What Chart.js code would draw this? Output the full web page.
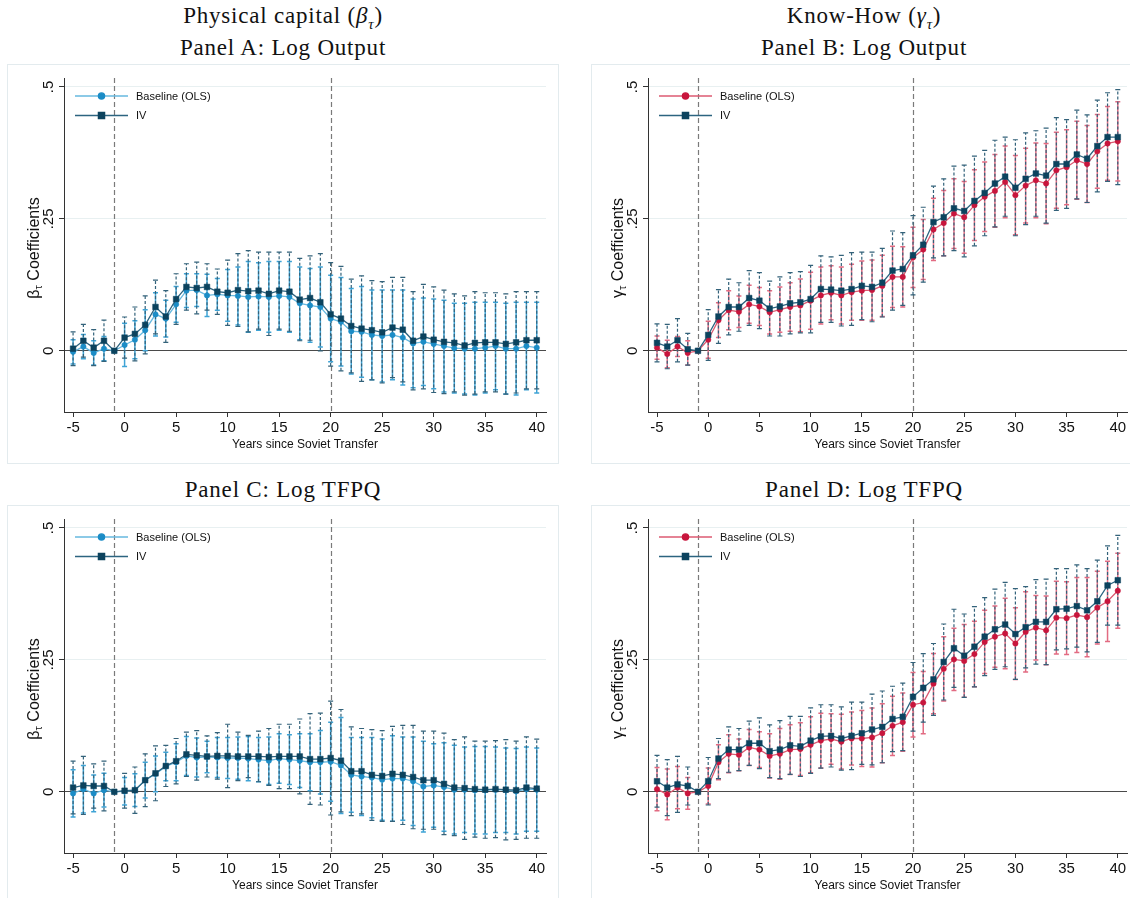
<!DOCTYPE html>
<html>
<head>
<meta charset="utf-8">
<script src="https://cdn.jsdelivr.net/npm/chart.js@4.4.1/dist/chart.umd.min.js"></script>
<style>
  html, body { margin: 0; padding: 0; background: #fff; }
  body { width: 1130px; height: 898px; overflow: hidden; position: relative; }
  .head { position: absolute; font-family: "Liberation Serif", "Times New Roman", serif; font-size: 23px;
          letter-spacing: 0.8px; line-height: 28px; color: #111; white-space: nowrap; transform: translateX(-50%); }
  .head sub { font-size: 15px; line-height: 0; }
  .frame { position: absolute; border: 1px solid #e3ebee; box-sizing: border-box; }
  canvas { position: absolute; }
</style>
</head>
<body>
<div class="head" style="left:283px; top:2px">Physical capital (<i>β</i><sub><i>τ</i></sub>)</div>
<div class="head" style="left:283px; top:34px">Panel A: Log Output</div>
<div class="head" style="left:864px; top:2px">Know-How (<i>γ</i><sub><i>τ</i></sub>)</div>
<div class="head" style="left:864px; top:34px">Panel B: Log Output</div>
<div class="head" style="left:283px; top:476px">Panel C: Log TFPQ</div>
<div class="head" style="left:864px; top:476px">Panel D: Log TFPQ</div>

<div class="frame" style="left:7px; top:64px; width:552px; height:400px"></div>
<div class="frame" style="left:591px; top:64px; width:545px; height:400px"></div>
<div class="frame" style="left:7px; top:505px; width:552px; height:400px"></div>
<div class="frame" style="left:591px; top:505px; width:545px; height:400px"></div>

<canvas id="panelA" width="552" height="400" style="left:7px; top:64px"></canvas>
<canvas id="panelB" width="545" height="400" style="left:591px; top:64px"></canvas>
<canvas id="panelC" width="552" height="400" style="left:7px; top:505px"></canvas>
<canvas id="panelD" width="545" height="400" style="left:591px; top:505px"></canvas>

<script>
// Event time: years relative to the Soviet transfer
const years = [-5, -4, -3, -2, -1, 0, 1, 2, 3, 4, 5, 6, 7, 8, 9, 10, 11, 12, 13, 14, 15, 16, 17, 18, 19,
               20, 21, 22, 23, 24, 25, 26, 27, 28, 29, 30, 31, 32, 33, 34, 35, 36, 37, 38, 39, 40];
const xTickValues = [-5, 0, 5, 10, 15, 20, 25, 30, 35, 40];
const xTickLabels = ['-5', '0', '5', '10', '15', '20', '25', '30', '35', '40'];
const yTickValues = [0, 0.25, 0.5];
const yTickLabels = ['0', '.25', '.5'];
const refYears = [-1, 20];
const seriesNames = ['Baseline (OLS)', 'IV'];

// Panel A: physical capital, log output (coefficient and 95% CI half-width)
const capOutputOls   = [-0.002, 0.008, -0.004, 0.004, 0, 0.011, 0.021, 0.039, 0.069, 0.061, 0.088, 0.114, 0.115, 0.105, 0.107,
                        0.105, 0.104, 0.102, 0.103, 0.102, 0.104, 0.102, 0.090, 0.086, 0.083, 0.061, 0.055, 0.037, 0.036, 0.030,
                        0.028, 0.030, 0.025, 0.014, 0.017, 0.013, 0.009, 0.005, 0.004, 0.004, 0.006, 0.009, 0.004, 0.004, 0.009, 0.006];
const capOutputOlsCi = [0.023, 0.023, 0.023, 0.023, 0, 0.041, 0.036, 0.039, 0.041, 0.035, 0.034, 0.032, 0.031, 0.040, 0.030,
                        0.049, 0.055, 0.067, 0.064, 0.067, 0.065, 0.067, 0.069, 0.070, 0.076, 0.082, 0.084, 0.081, 0.086, 0.085,
                        0.087, 0.085, 0.090, 0.084, 0.083, 0.085, 0.087, 0.085, 0.086, 0.088, 0.086, 0.083, 0.086, 0.088, 0.083, 0.086];
const capOutputIv    = [0.004, 0.019, 0.006, 0.019, 0, 0.025, 0.032, 0.049, 0.083, 0.065, 0.098, 0.121, 0.119, 0.121, 0.112,
                        0.110, 0.115, 0.113, 0.114, 0.108, 0.114, 0.112, 0.097, 0.100, 0.092, 0.069, 0.061, 0.047, 0.042, 0.039,
                        0.035, 0.044, 0.040, 0.019, 0.027, 0.021, 0.017, 0.015, 0.010, 0.015, 0.016, 0.016, 0.013, 0.016, 0.020, 0.020];
const capOutputIvCi  = [0.032, 0.031, 0.034, 0.039, 0, 0.039, 0.051, 0.055, 0.051, 0.049, 0.048, 0.044, 0.049, 0.044, 0.043,
                        0.062, 0.069, 0.077, 0.073, 0.079, 0.073, 0.075, 0.078, 0.080, 0.092, 0.098, 0.099, 0.089, 0.100, 0.094,
                        0.096, 0.095, 0.099, 0.093, 0.099, 0.100, 0.098, 0.093, 0.094, 0.097, 0.094, 0.094, 0.095, 0.096, 0.092, 0.092];

// Panel B: know-how, log output
const khOutputOls    = [0.006, -0.006, 0.008, -0.004, 0, 0.021, 0.058, 0.077, 0.074, 0.088, 0.084, 0.073, 0.078, 0.083, 0.086,
                        0.095, 0.105, 0.110, 0.105, 0.111, 0.114, 0.115, 0.123, 0.140, 0.140, 0.177, 0.192, 0.230, 0.242, 0.260,
                        0.253, 0.276, 0.292, 0.303, 0.320, 0.295, 0.313, 0.323, 0.317, 0.342, 0.348, 0.361, 0.354, 0.378, 0.393, 0.397];
const khOutputOlsCi  = [0.022, 0.026, 0.019, 0.023, 0, 0.035, 0.033, 0.037, 0.030, 0.036, 0.036, 0.041, 0.043, 0.046, 0.050,
                        0.054, 0.054, 0.051, 0.054, 0.053, 0.056, 0.057, 0.058, 0.058, 0.057, 0.057, 0.057, 0.059, 0.062, 0.066,
                        0.068, 0.067, 0.066, 0.069, 0.068, 0.075, 0.071, 0.071, 0.076, 0.072, 0.071, 0.074, 0.073, 0.070, 0.070, 0.075];
const khOutputIv     = [0.015, 0.008, 0.020, 0.003, 0, 0.030, 0.065, 0.083, 0.083, 0.100, 0.095, 0.080, 0.084, 0.090, 0.092,
                        0.098, 0.117, 0.116, 0.114, 0.117, 0.123, 0.121, 0.129, 0.152, 0.155, 0.181, 0.201, 0.244, 0.253, 0.270,
                        0.265, 0.284, 0.299, 0.317, 0.330, 0.309, 0.326, 0.336, 0.332, 0.354, 0.354, 0.372, 0.364, 0.388, 0.405, 0.405];
const khOutputIvCi   = [0.036, 0.042, 0.041, 0.030, 0, 0.048, 0.051, 0.053, 0.046, 0.052, 0.053, 0.052, 0.056, 0.058, 0.058,
                        0.064, 0.063, 0.062, 0.067, 0.069, 0.064, 0.066, 0.065, 0.075, 0.069, 0.075, 0.071, 0.068, 0.073, 0.080,
                        0.087, 0.085, 0.081, 0.082, 0.075, 0.091, 0.087, 0.081, 0.090, 0.088, 0.084, 0.084, 0.083, 0.087, 0.084, 0.090];

// Panel C: physical capital, log TFPQ
const capTfpqOls     = [-0.003, 0.005, -0.003, 0.003, 0, 0.001, 0.003, 0.022, 0.034, 0.048, 0.056, 0.068, 0.065, 0.066, 0.065,
                        0.064, 0.064, 0.063, 0.061, 0.059, 0.063, 0.061, 0.059, 0.056, 0.056, 0.057, 0.050, 0.032, 0.029, 0.027,
                        0.023, 0.025, 0.025, 0.020, 0.010, 0.012, 0.009, 0.004, 0.004, 0.003, 0.003, 0.004, 0.003, 0.001, 0.005, 0.004];
const capTfpqOlsCi   = [0.045, 0.045, 0.035, 0.032, 0, 0.026, 0.031, 0.034, 0.034, 0.027, 0.035, 0.037, 0.037, 0.030, 0.038,
                        0.039, 0.040, 0.042, 0.042, 0.045, 0.047, 0.047, 0.051, 0.054, 0.060, 0.075, 0.091, 0.071, 0.074, 0.076,
                        0.077, 0.081, 0.079, 0.084, 0.086, 0.079, 0.084, 0.084, 0.081, 0.083, 0.083, 0.081, 0.080, 0.081, 0.080, 0.079];
const capTfpqIv      = [0.008, 0.012, 0.011, 0.011, 0, 0.002, 0.003, 0.022, 0.035, 0.049, 0.058, 0.071, 0.069, 0.067, 0.068,
                        0.068, 0.067, 0.067, 0.067, 0.066, 0.067, 0.067, 0.067, 0.062, 0.062, 0.064, 0.059, 0.039, 0.039, 0.032,
                        0.030, 0.034, 0.032, 0.028, 0.022, 0.022, 0.015, 0.008, 0.007, 0.005, 0.004, 0.005, 0.004, 0.003, 0.008, 0.006];
const capTfpqIvCi    = [0.050, 0.055, 0.042, 0.047, 0, 0.033, 0.044, 0.050, 0.052, 0.039, 0.043, 0.042, 0.047, 0.039, 0.044,
                        0.060, 0.046, 0.040, 0.048, 0.054, 0.061, 0.061, 0.071, 0.086, 0.087, 0.108, 0.097, 0.084, 0.081, 0.086,
                        0.086, 0.090, 0.094, 0.098, 0.093, 0.093, 0.096, 0.091, 0.097, 0.091, 0.092, 0.092, 0.095, 0.093, 0.096, 0.094];

// Panel D: know-how, log TFPQ
const khTfpqOls      = [0.005, -0.005, 0.008, -0.003, 0, 0.011, 0.056, 0.072, 0.070, 0.084, 0.080, 0.068, 0.072, 0.080, 0.081,
                        0.089, 0.097, 0.100, 0.095, 0.101, 0.101, 0.103, 0.111, 0.125, 0.132, 0.165, 0.169, 0.205, 0.233, 0.251,
                        0.248, 0.261, 0.284, 0.294, 0.300, 0.281, 0.303, 0.311, 0.306, 0.330, 0.329, 0.335, 0.331, 0.349, 0.361, 0.381];
const khTfpqOlsCi    = [0.041, 0.048, 0.040, 0.030, 0, 0.034, 0.033, 0.036, 0.030, 0.034, 0.034, 0.042, 0.048, 0.047, 0.050,
                        0.053, 0.052, 0.048, 0.052, 0.050, 0.053, 0.056, 0.056, 0.056, 0.055, 0.061, 0.059, 0.057, 0.061, 0.059,
                        0.069, 0.062, 0.060, 0.058, 0.067, 0.068, 0.076, 0.061, 0.065, 0.069, 0.069, 0.071, 0.075, 0.069, 0.076, 0.071];
const khTfpqIv       = [0.020, 0.008, 0.014, 0.011, 0, 0.020, 0.063, 0.080, 0.080, 0.092, 0.092, 0.077, 0.080, 0.088, 0.086,
                        0.097, 0.105, 0.106, 0.101, 0.106, 0.111, 0.118, 0.123, 0.138, 0.142, 0.180, 0.197, 0.213, 0.246, 0.272,
                        0.258, 0.275, 0.294, 0.308, 0.317, 0.299, 0.312, 0.322, 0.322, 0.346, 0.347, 0.352, 0.344, 0.361, 0.391, 0.401];
const khTfpqIvCi     = [0.049, 0.053, 0.053, 0.036, 0, 0.045, 0.038, 0.043, 0.040, 0.042, 0.048, 0.050, 0.055, 0.055, 0.057,
                        0.062, 0.060, 0.059, 0.060, 0.064, 0.059, 0.067, 0.068, 0.062, 0.064, 0.065, 0.065, 0.068, 0.072, 0.074,
                        0.079, 0.076, 0.074, 0.076, 0.080, 0.086, 0.077, 0.080, 0.081, 0.077, 0.076, 0.078, 0.079, 0.078, 0.075, 0.085];

const SANS = '"Liberation Sans", Arial, Helvetica, sans-serif';
Chart.defaults.font.family = SANS;
Chart.defaults.color = '#111';

const palettes = {
  blue: { marker: '#1b8cc6', line: '#66b8df', ci: '#3ea3d5' },
  red:  { marker: '#c8153c', line: '#dc5a72', ci: '#e26b82' },
  iv:   { marker: '#0c435e', line: '#2c6480', ci: '#33627a' }
};

// Vertical dashed reference lines at the given event years
const refLinePlugin = {
  id: 'refLines',
  beforeDatasetsDraw(chart) {
    const { ctx, chartArea, scales } = chart;
    ctx.save();
    ctx.strokeStyle = '#7a7a7a';
    ctx.lineWidth = 1.2;
    ctx.setLineDash([5, 3]);
    refYears.forEach(v => {
      const x = Math.round(scales.x.getPixelForValue(v)) + 0.5;
      ctx.beginPath();
      ctx.moveTo(x, chartArea.top);
      ctx.lineTo(x, chartArea.bottom);
      ctx.stroke();
    });
    ctx.restore();
  }
};

// Capped confidence-interval bars: coefficient plus/minus the stored half-width
const ciBarPlugin = {
  id: 'ciBars',
  beforeDatasetsDraw(chart) {
    const { ctx, scales } = chart;
    chart.data.datasets.forEach(ds => {
      ctx.save();
      ctx.strokeStyle = ds.ciColor;
      ctx.lineWidth = ds.ciWidth;
      ctx.setLineDash(ds.ciDash);
      ds.data.forEach((pt, i) => {
        const h = ds.ciHalf[i];
        if (!h) return;
        const x = scales.x.getPixelForValue(pt.x);
        const yLo = scales.y.getPixelForValue(pt.y - h);
        const yHi = scales.y.getPixelForValue(pt.y + h);
        ctx.beginPath();
        ctx.moveTo(x, yLo); ctx.lineTo(x, yHi);
        ctx.stroke();
        ctx.save();
        ctx.setLineDash([]);
        ctx.beginPath();
        ctx.moveTo(x - 2.5, yLo); ctx.lineTo(x + 2.5, yLo);
        ctx.moveTo(x - 2.5, yHi); ctx.lineTo(x + 2.5, yHi);
        ctx.stroke();
        ctx.restore();
      });
      ctx.restore();
    });
  }
};

// Legend drawn inside the plot area, top-left
const keyPlugin = {
  id: 'insideKey',
  afterDatasetsDraw(chart) {
    const { ctx, chartArea } = chart;
    const left = chartArea.left;
    chart.data.datasets.forEach((ds, k) => {
      const y = chartArea.top + 18 + k * 19.5;
      ctx.save();
      ctx.strokeStyle = ds.borderColor;
      ctx.lineWidth = ds.borderWidth;
      ctx.beginPath();
      ctx.moveTo(left + 11, y); ctx.lineTo(left + 64, y);
      ctx.stroke();
      ctx.fillStyle = ds.pointBackgroundColor;
      ctx.strokeStyle = ds.pointBackgroundColor;
      Chart.helpers.drawPoint(ctx, { pointStyle: ds.pointStyle, radius: ds.pointRadius + 0.4, rotation: 0, borderWidth: 0.5 },
                              left + 37.5, y);
      ctx.fillStyle = '#111';
      ctx.font = '11px ' + SANS;
      ctx.textBaseline = 'middle';
      ctx.textAlign = 'left';
      ctx.fillText(ds.label, left + 72, y + 0.5);
      ctx.restore();
    });
  }
};

// Rotated y-axis title with a subscript tau
const yTitlePlugin = {
  id: 'yTitle',
  afterDraw(chart, args, opts) {
    const { ctx, chartArea } = chart;
    const cx = chartArea.left - 31;
    const cy = (chartArea.top + chartArea.bottom) / 2 + 3;
    const big = '16px ' + SANS, small = '11px ' + SANS;
    const rest = ' Coefficients';
    ctx.save();
    ctx.font = big; const w1 = ctx.measureText(opts.symbol).width; const w3 = ctx.measureText(rest).width;
    ctx.font = small; const w2 = ctx.measureText('τ').width;
    const total = w1 + w2 + w3;
    ctx.translate(cx, cy);
    ctx.rotate(-Math.PI / 2);
    ctx.fillStyle = '#111';
    ctx.textAlign = 'left';
    ctx.textBaseline = 'alphabetic';
    let s = -total / 2;
    ctx.font = big; ctx.fillText(opts.symbol, s, 5.5);
    ctx.font = small; ctx.fillText('τ', s + w1, 8.5);
    ctx.font = big; ctx.fillText(rest, s + w1 + w2, 5.5);
    ctx.restore();
  }
};

function series(vals) {
  return years.map((t, i) => ({ x: t, y: vals[i] }));
}

function makePanel(id, olsVals, olsCi, ivVals, ivCi, olsPal, symbol, padRight) {
  const ivPal = palettes.iv;
  return new Chart(document.getElementById(id), {
    type: 'line',
    data: {
      datasets: [
        {
          label: seriesNames[0], data: series(olsVals), ciHalf: olsCi,
          ciColor: olsPal.ci, ciWidth: 1.5, ciDash: [],
          borderColor: olsPal.line, borderWidth: 1.3, tension: 0,
          pointStyle: 'circle', pointRadius: 2.7, pointBorderWidth: 0.5,
          pointBackgroundColor: olsPal.marker, pointBorderColor: olsPal.marker, order: 1
        },
        {
          label: seriesNames[1], data: series(ivVals), ciHalf: ivCi,
          ciColor: ivPal.ci, ciWidth: 1.2, ciDash: [3, 2],
          borderColor: ivPal.line, borderWidth: 1.3, tension: 0,
          pointStyle: 'rect', pointRadius: 4, pointBorderWidth: 0.5,
          pointBackgroundColor: ivPal.marker, pointBorderColor: ivPal.marker, order: 0
        }
      ]
    },
    options: {
      responsive: false, animation: false, events: [],
      layout: { padding: { left: 17, right: padRight, top: 14, bottom: 13 } },
      plugins: { legend: { display: false }, tooltip: { enabled: false }, yTitle: { symbol: symbol } },
      scales: {
        x: {
          type: 'linear', min: -5.88, max: 40.9,
          afterBuildTicks: s => { s.ticks = xTickValues.map(v => ({ value: v })); },
          ticks: {
            autoSkip: false, maxRotation: 0, padding: 3.5, color: '#111',
            font: { size: 15, lineHeight: 1 },
            callback: v => xTickLabels[xTickValues.indexOf(v)]
          },
          grid: { drawOnChartArea: false, drawTicks: true, tickLength: 5, tickColor: '#333', tickWidth: 1 },
          border: { display: true, color: '#333', width: 1 },
          title: { display: true, text: 'Years since Soviet Transfer', color: '#111',
                   font: { size: 12, lineHeight: 1 }, padding: { top: 0, bottom: 0 } }
        },
        y: {
          type: 'linear', min: -0.116, max: 0.517,
          afterBuildTicks: s => { s.ticks = yTickValues.map(v => ({ value: v })); },
          afterFit: s => { s.width = 40; },
          ticks: {
            autoSkip: false, minRotation: 90, maxRotation: 90, crossAlign: 'center', padding: 0,
            color: '#111', font: { size: 15, lineHeight: 1 },
            callback: v => yTickLabels[yTickValues.indexOf(v)]
          },
          grid: {
            drawTicks: true, tickLength: 5, tickColor: '#333', lineWidth: 1,
            color: c => (c.tick && c.tick.value === 0) ? '#4a4a4a' : '#e8f0f1'
          },
          border: { display: true, color: '#333', width: 1 }
        }
      }
    },
    plugins: [refLinePlugin, ciBarPlugin, keyPlugin, yTitlePlugin]
  });
}

makePanel('panelA', capOutputOls, capOutputOlsCi, capOutputIv, capOutputIvCi, palettes.blue, 'β', 13);
makePanel('panelB', khOutputOls, khOutputOlsCi, khOutputIv, khOutputIvCi, palettes.red, 'γ', 9);
makePanel('panelC', capTfpqOls, capTfpqOlsCi, capTfpqIv, capTfpqIvCi, palettes.blue, 'β', 13);
makePanel('panelD', khTfpqOls, khTfpqOlsCi, khTfpqIv, khTfpqIvCi, palettes.red, 'γ', 9);
</script>
</body>
</html>
